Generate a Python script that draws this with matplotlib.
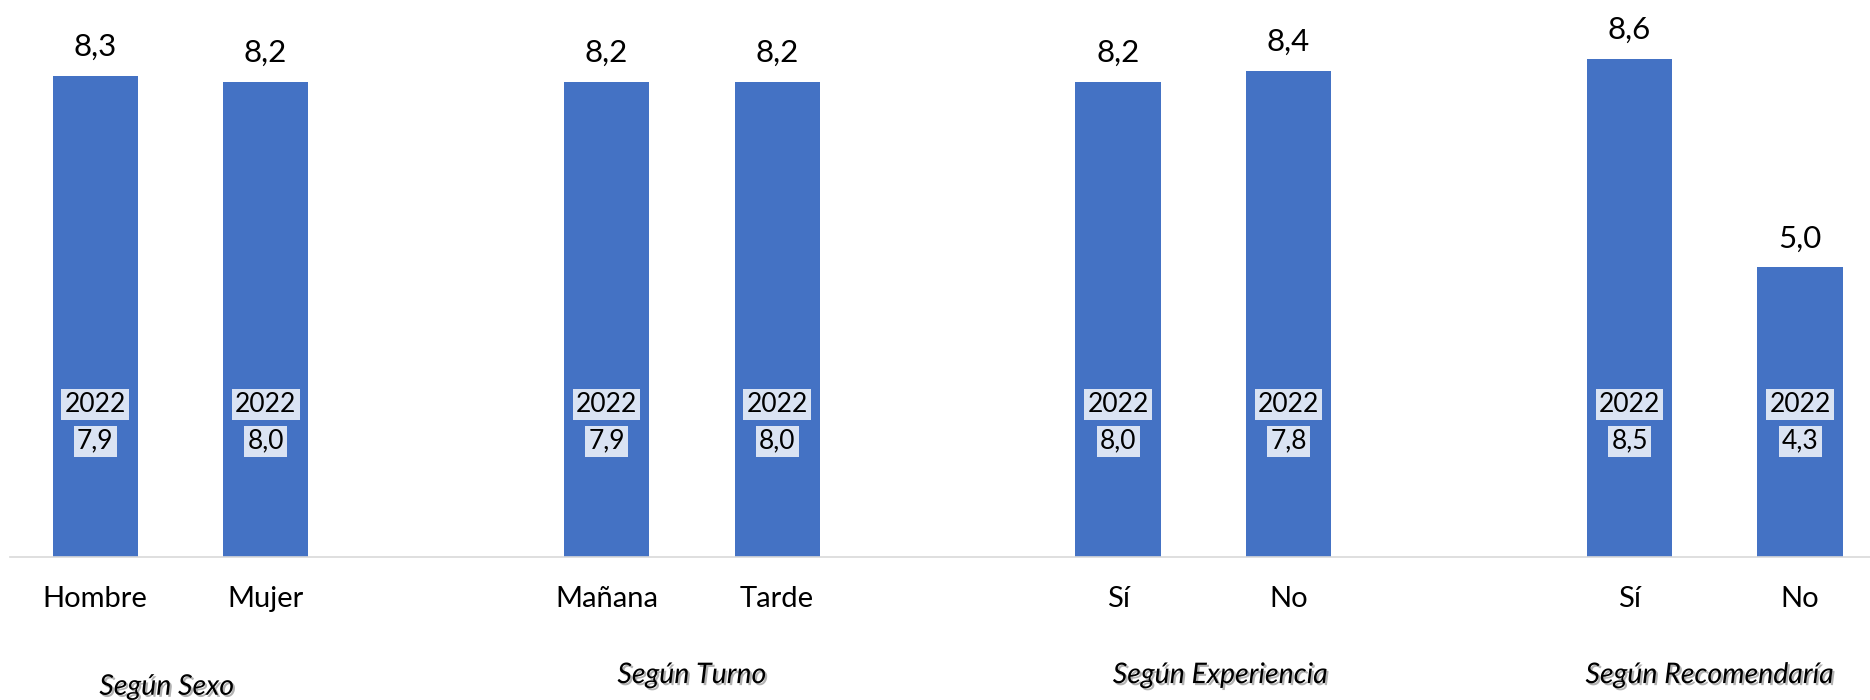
import matplotlib
matplotlib.use("Agg")
import matplotlib.pyplot as plt
import matplotlib.patheffects as pe

# Satisfaction scores by respondent segment (current year and 2022)
categories = ["Hombre", "Mujer", "Mañana", "Tarde", "Sí", "No", "Sí", "No"]
values = [8.3, 8.2, 8.2, 8.2, 8.2, 8.4, 8.6, 5.0]
values_2022 = [7.9, 8.0, 7.9, 8.0, 8.0, 7.8, 8.5, 4.3]
groups = ["Según Sexo", "Según Turno", "Según Experiencia", "Según Recomendaría"]
prev_year = "2022"

BAR_COLOR = "#4472C4"
BOX_COLOR = "#DAE3F3"
FONT = "Lato"

# two bars per group, one empty slot between groups
slots = []
for g in range(len(groups)):
    slots += [3 * g, 3 * g + 1]

fig = plt.figure(figsize=(18.7, 7.0), dpi=100)
ax = fig.add_axes([0.0053, 0.2043, 0.9947, 0.7957])

bars = ax.bar(slots, values, width=0.5, color=BAR_COLOR, zorder=2)

ax.set_xlim(-0.5, 10.41)
ax.set_ylim(0, 9.62)

for spine in ["top", "right", "left"]:
    ax.spines[spine].set_visible(False)
ax.spines["bottom"].set_color("#D9D9D9")
ax.spines["bottom"].set_linewidth(1.2)
ax.set_yticks([])

ax.set_xticks(slots)
ax.set_xticklabels(categories, fontsize=21, family=FONT)
ax.tick_params(axis="x", length=0, pad=21)

# current value above each bar
for x, v in zip(slots, values):
    ax.annotate(f"{v:.1f}".replace(".", ","), (x, v), xytext=(0, 21),
                textcoords="offset points", ha="center", va="center",
                fontsize=22.5, family=FONT)

# previous year value, boxed inside the bar
box = dict(boxstyle="square,pad=0.12", fc=BOX_COLOR, ec="none")
for x, v in zip(slots, values_2022):
    ax.text(x, 2.63, prev_year, ha="center", va="center", fontsize=19,
            family=FONT, zorder=4, bbox=box)
    ax.text(x, 2.0, f"{v:.1f}".replace(".", ","), ha="center", va="center",
            fontsize=19, family=FONT, zorder=3, bbox=box)

# group captions under the axis
group_x = [0.42, 3.5, 6.6, 9.47]
group_y = [-0.233, -0.212, -0.212, -0.212]
shadow = [pe.withSimplePatchShadow(offset=(1.5, -1.5), shadow_rgbFace="#808080", alpha=0.6)]
for label, gx, gy in zip(groups, group_x, group_y):
    ax.text(gx, gy, label, transform=ax.get_xaxis_transform(), ha="center",
            va="center", fontsize=20.5, family=FONT, style="italic",
            path_effects=shadow)

fig.savefig("out.png", dpi=100, facecolor="white")
